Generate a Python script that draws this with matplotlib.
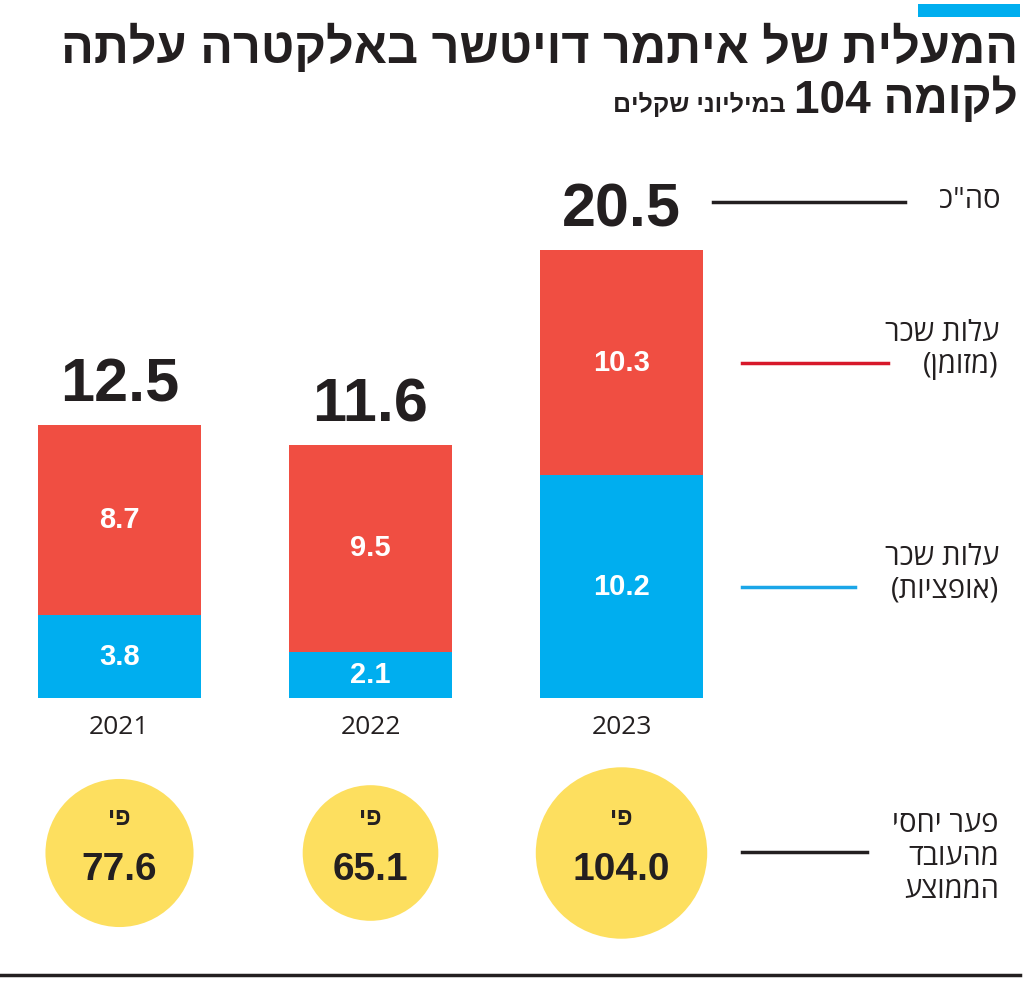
import re
import matplotlib
matplotlib.use("Agg")
import matplotlib.pyplot as plt
from matplotlib.lines import Line2D
from matplotlib.patches import Rectangle
import matplotlib.transforms as mtransforms

years = ["2021", "2022", "2023"]
options = [3.8, 2.1, 10.2]
cash = [8.7, 9.5, 10.3]
totals = [12.5, 11.6, 20.5]
ratio = [77.6, 65.1, 104.0]

title1 = "המעלית של איתמר דויטשר באלקטרה עלתה"
title2a = "לקומה 104"
title2b = "במיליוני שקלים"
lbl_total = "סה\"כ"
lbl_cash = ["עלות שכר", "(מזומן)"]
lbl_opt = ["עלות שכר", "(אופציות)"]
lbl_ratio = ["פער יחסי", "מהעובד", "הממוצע"]
lbl_times = "פי"

RED = "#f04e42"
BLUE = "#00aeef"
YELLOW = "#fddf5f"
DARK = "#231f20"

W, H = 1024, 981


def rtl(s):
    # visual order for hebrew: reverse, keep numbers LTR, mirror brackets
    parts = re.findall(r"\d+(?:\.\d+)?|\D", s)
    out = "".join(reversed(parts))
    return out.translate(str.maketrans("()", ")("))


def fy(py):
    return 1 - py / H


def fx(px):
    return px / W


COND = ["Liberation Sans Narrow", "Liberation Sans", "DejaVu Sans"]
HEB = ["Open Sans", "Liberation Sans", "DejaVu Sans"]

fig = plt.figure(figsize=(W / 100, H / 100), dpi=100)

# bars axes: x in category units, y in millions
scale = 21.84  # px per unit
ax = fig.add_axes([0, fy(698), 1, 22 * scale / H])
step = 251
xs = [0, 1, 2]
ax.set_xlim(-119.5 / step, (W - 119.5) / step)
ax.set_ylim(0, 22)
ax.axis("off")

bw = 163 / step
ax.bar(xs, options, width=bw, color=BLUE)
ax.bar(xs, cash, width=bw, bottom=options, color=RED)

for x, o, c, t, yr in zip(xs, options, cash, totals, years):
    ax.text(x, o / 2, f"{o:.1f}", ha="center", va="center", color="white",
            fontsize=21, fontweight="bold", family=COND)
    ax.text(x, o + c / 2, f"{c:.1f}", ha="center", va="center", color="white",
            fontsize=21, fontweight="bold", family=COND)
    ax.annotate(f"{t:.1f}", (x, t), xytext=(0, 17), textcoords="offset points",
                ha="center", va="baseline", color=DARK, fontsize=44,
                fontweight="bold", family=COND)
    ax.annotate(yr, (x, 0), xytext=(0, -21), textcoords="offset points",
                ha="center", va="center", color=DARK, fontsize=19, family=HEB)

# legend lines tied to the 2023 bar segments
blend = mtransforms.blended_transform_factory(fig.transFigure, ax.transData)
ax.add_line(Line2D([fx(742), fx(888)], [options[2] + cash[2] / 2] * 2,
                   transform=blend, color="#d7182a", lw=2.5))
ax.add_line(Line2D([fx(742), fx(855)], [options[2] / 2] * 2,
                   transform=blend, color="#1ba6e8", lw=2.5))
fig.add_artist(Line2D([fx(713), fx(905)], [fy(202)] * 2, color=DARK, lw=2.5))

fig.text(fx(1000), fy(201), rtl(lbl_total), ha="right", va="center",
         fontsize=21, color=DARK, family=HEB)
for i, s in enumerate(lbl_cash):
    fig.text(fx(999), fy(333 + 32 * i), rtl(s), ha="right", va="center",
             fontsize=21, color=DARK, family=HEB)
for i, s in enumerate(lbl_opt):
    fig.text(fx(999), fy(557 + 33 * i), rtl(s), ha="right", va="center",
             fontsize=21, color=DARK, family=HEB)

# bubbles: area proportional to ratio
bx = fig.add_axes([0, fy(853) - 0.1, 1, 0.2])
bx.set_xlim(ax.get_xlim())
bx.set_ylim(-1, 1)
bx.axis("off")
bx.scatter(xs, [0] * 3, s=[146.5 * r for r in ratio], color=YELLOW, lw=0)
for x, r in zip(xs, ratio):
    bx.annotate(rtl(lbl_times), (x, 0), xytext=(0, 25), textcoords="offset points",
                ha="center", va="center", fontsize=17, fontweight="bold",
                color=DARK, family=COND)
    bx.annotate(f"{r:.1f}", (x, 0), xytext=(0, -12), textcoords="offset points",
                ha="center", va="center", fontsize=28, fontweight="bold",
                color=DARK, family=COND)

fig.add_artist(Line2D([fx(742), fx(867)], [fy(852)] * 2, color=DARK, lw=2.5))
for i, s in enumerate(lbl_ratio):
    fig.text(fx(999), fy(824 + 33 * i), rtl(s), ha="right", va="center",
             fontsize=21, color=DARK, family=HEB)

# header
fig.add_artist(Rectangle((fx(918), fy(17)), fx(1020) - fx(918), fy(4) - fy(17),
                         transform=fig.transFigure, color=BLUE, lw=0))
fig.text(fx(1018), fy(48), rtl(title1), ha="right", va="center", fontsize=35,
         fontweight="bold", color=DARK, family=COND)
t2 = fig.text(fx(1018), fy(100), rtl(title2a), ha="right", va="center",
              fontsize=33, fontweight="bold", color=DARK, family=COND)
fig.canvas.draw()
bb = t2.get_window_extent()
fig.text((bb.x0 - 9) / W, fy(104), rtl(title2b), ha="right", va="center",
         fontsize=18, fontweight="bold", color=DARK, family=COND)

# bottom rule
fig.add_artist(Line2D([0, fx(1020)], [fy(975)] * 2, color=DARK, lw=2.5))

fig.savefig("out.png", dpi=100)
